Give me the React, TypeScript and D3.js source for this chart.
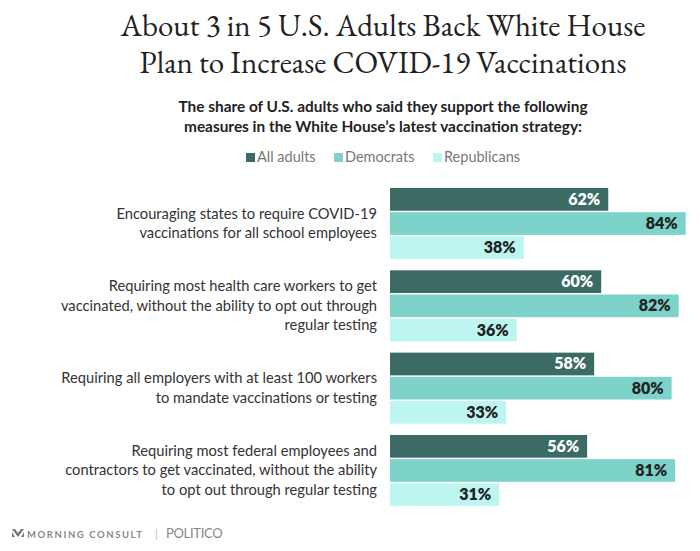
import React from "react";
import * as d3 from "d3";

const categories: string[][] = [
  ["Encouraging states to require COVID-19", "vaccinations for all school employees"],
  ["Requiring most health care workers to get", "vaccinated, without the ability to opt out through", "regular testing"],
  ["Requiring all employers with at least 100 workers", "to mandate vaccinations or testing"],
  ["Requiring most federal employees and", "contractors to get vaccinated, without the ability", "to opt out through regular testing"],
];
const seriesNames = ["All adults", "Democrats", "Republicans"];
const allAdults = [62, 60, 58, 56];
const democrats = [84, 82, 80, 81];
const republicans = [38, 36, 33, 31];
const colors = ["#3c6a65", "#7dd3c9", "#bdf5f1"];
const labelColors = ["#ffffff", "#222222", "#222222"];

const W = 700, H = 551;
const SANS = "Lato, 'Open Sans', sans-serif";

export default function App() {
  const series = [allAdults, democrats, republicans];
  const x = d3.scaleLinear().domain([0, 100]).range([390, 742]);
  const y0 = d3.scaleBand<number>().domain(d3.range(categories.length)).range([188, 506]).paddingInner(0.137).paddingOuter(0);
  const y1 = d3.scaleBand<number>().domain(d3.range(3)).range([0, y0.bandwidth()]).paddingInner(0.06);
  return (
    <svg width={W} height={H} style={{ display: "block", margin: "-8px" }} viewBox={`0 0 ${W} ${H}`}>
      <rect width={W} height={H} fill="#fff" />
      <g fontFamily="'EB Garamond', 'Liberation Serif', serif" fontSize={31} fill="#222" textAnchor="middle">
        <text x={383} y={36}>About 3 in 5 U.S. Adults Back White House</text>
        <text x={383} y={73}>Plan to Increase COVID-19 Vaccinations</text>
      </g>
      <g fontFamily={SANS} fontWeight={700} fontSize={15.4} fill="#222" textAnchor="middle">
        <text x={383} y={112}>The share of U.S. adults who said they support the following</text>
        <text x={383} y={132}>measures in the White House’s latest vaccination strategy:</text>
      </g>
      <g fontFamily={SANS} fontSize={14.5} fill="#777">
        {seriesNames.map((s, i) => {
          const lx = [246, 334, 433][i];
          return (
            <g key={s}>
              <rect x={lx} y={153} width={9} height={9} fill={colors[i]} />
              <text x={lx + 11} y={162}>{s}</text>
            </g>
          );
        })}
      </g>
      {categories.map((lines, ci) => {
        const gy = y0(ci)!;
        const cy = gy + y0.bandwidth() / 2;
        const lh = 19.5;
        return (
          <g key={ci}>
            {lines.map((ln, li) => (
              <text key={li} x={377} y={cy + (li - (lines.length - 1) / 2) * lh + 5} textAnchor="end"
                fontFamily={SANS} fontSize={14.7} fill="#333">{ln}</text>
            ))}
            {series.map((vals, si) => {
              const by = gy + y1(si)!;
              return (
                <g key={si}>
                  <rect x={x(0)} y={by} width={x(vals[ci]) - x(0)} height={y1.bandwidth()} fill={colors[si]} />
                  <text x={x(vals[ci]) - 8} y={by + y1.bandwidth() / 2 + 5.5} textAnchor="end"
                    fontFamily={SANS} fontWeight={800} fontSize={16} fill={labelColors[si]}>{vals[ci]}%</text>
                </g>
              );
            })}
          </g>
        );
      })}
      <g fontFamily={SANS} fill="#888">
        <path d="M12,529 l3,0 l3,4 l3,-4 l3,0 l-6,8 z M12,532 l3,5 l-3,0 z M24,532 l-3,5 l3,0 z" fill="#777" />
        <text x={27} y={538} fontSize={9.5} fontWeight={700} letterSpacing={1.6}>MORNING CONSULT</text>
        <text x={155} y={538} fontSize={12} fill="#bbb">|</text>
        <text x={166} y={538} fontSize={13} letterSpacing={-0.3}>POLITICO</text>
      </g>
    </svg>
  );
}
